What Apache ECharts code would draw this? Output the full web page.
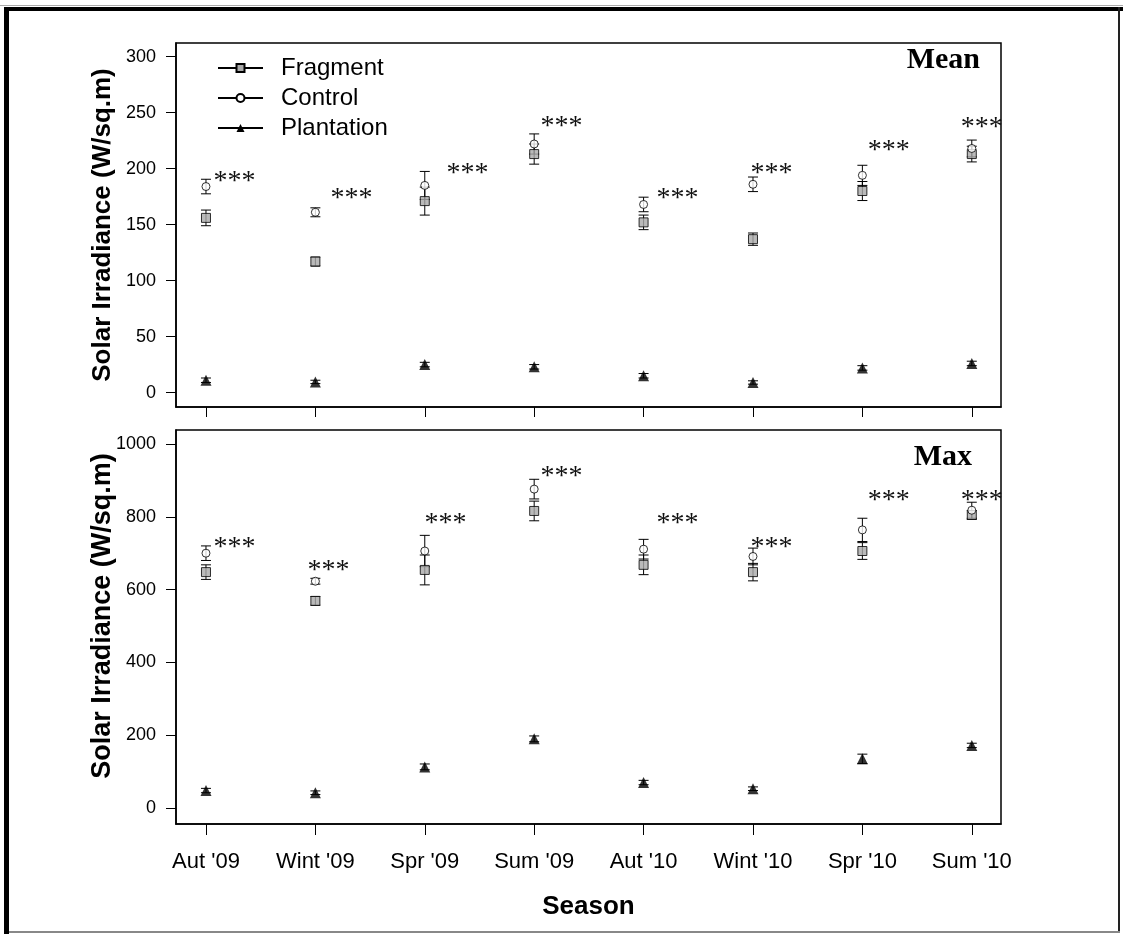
<!DOCTYPE html>
<html>
<head>
<meta charset="utf-8">
<script src="https://cdn.jsdelivr.net/npm/echarts@6/dist/echarts.min.js"></script>
<style>
html,body{margin:0;padding:0;background:#fff;}
#chart{width:1123px;height:934px;}
</style>
</head>
<body>
<div id="chart"></div>
<script>
// ---------- data ----------
const seasons = ["Aut '09", "Wint '09", "Spr '09", "Sum '09", "Aut '10", "Wint '10", "Spr '10", "Sum '10"];
const meanTicks = [0, 50, 100, 150, 200, 250, 300];
const maxTicks = [0, 200, 400, 600, 800, 1000];

const fragMean    = [156, 117, 171, 213, 152, 137, 180, 213];
const fragMeanErr = [7, 4, 12.5, 9, 6.5, 5.5, 8.5, 7];
const ctrlMean    = [184, 161, 185, 222, 168, 186, 194, 218];
const ctrlMeanErr = [6.5, 4, 12.5, 9, 6.5, 6.5, 9, 7.5];
const plantMean    = [11, 9.5, 25, 23, 15, 9, 22, 26];
const plantMeanErr = [2, 1.5, 2, 2, 2, 1.5, 2, 2];

const fragMax    = [648, 569, 654, 816, 668, 648, 706, 805];
const fragMaxErr = [20, 12, 41, 27, 27, 24, 23, 12];
const ctrlMax    = [700, 623, 706, 876, 711, 691, 764, 818];
const ctrlMaxErr = [20, 8, 43, 27, 27, 23, 32, 22];
const plantMax    = [48, 42, 113, 190, 70, 53, 135, 172];
const plantMaxErr = [6, 5, 8, 8, 6, 5, 13, 6];

// significance annotations "***": [season position, value]
const starMean = [[0.26, 192], [1.33, 177], [2.39, 199], [3.25, 241], [4.31, 177], [5.17, 199], [6.24, 219.5], [7.09, 240.5]];
const starMax  = [[0.26, 725], [1.12, 663], [2.19, 791], [3.25, 920], [4.31, 791], [5.17, 725], [6.24, 855], [7.09, 855]];

// ---------- helpers ----------
const SANS = '"Liberation Sans", Arial, sans-serif';
const SERIF = '"Liberation Serif", "Times New Roman", serif';
const idx = seasons.map((s, i) => i);

function pts(vals) { return vals.map((v, i) => [i, v]); }
function errData(vals, errs) { return vals.map((v, i) => [i, v - errs[i], v + errs[i]]); }

function renderErr(params, api) {
  const x = api.value(0), lo = api.value(1), hi = api.value(2);
  const a = api.coord([x, hi]), b = api.coord([x, lo]);
  const w = 5;
  const st = { stroke: '#000', lineWidth: 1 };
  return {
    type: 'group',
    children: [
      { type: 'line', shape: { x1: a[0], y1: a[1], x2: b[0], y2: b[1] }, style: st },
      { type: 'line', shape: { x1: a[0] - w, y1: a[1], x2: a[0] + w, y2: a[1] }, style: st },
      { type: 'line', shape: { x1: b[0] - w, y1: b[1], x2: b[0] + w, y2: b[1] }, style: st }
    ]
  };
}
function renderStar(params, api) {
  const p = api.coord([api.value(0), api.value(1)]);
  return {
    type: 'text', x: p[0], y: p[1] + 4,
    style: { text: '***', font: '28px ' + SERIF, fill: '#111',
      align: 'center', verticalAlign: 'middle', textAlign: 'center', textVerticalAlign: 'middle' }
  };
}

const styles = {
  Fragment:   { symbol: 'rect', size: 9, itemStyle: { color: '#a9a9a9', borderColor: '#000', borderWidth: 1 } },
  Control:    { symbol: 'circle', size: 8, itemStyle: { color: '#fff', borderColor: '#000', borderWidth: 1 } },
  Plantation: { symbol: 'triangle', size: 11, itemStyle: { color: '#000', borderColor: '#000', borderWidth: 0 } }
};

const series = [];
// legend-only line series (line + marker icons)
['Fragment', 'Control', 'Plantation'].forEach(n => {
  series.push({ name: n, type: 'line', data: [], xAxisIndex: 0, yAxisIndex: 0,
    symbol: styles[n].symbol, itemStyle: styles[n].itemStyle, lineStyle: { color: '#000', width: 1 } });
});

function addPanel(k, groups, stars) {
  groups.forEach(g => {
    series.push({ type: 'custom', xAxisIndex: k, yAxisIndex: k, renderItem: renderErr,
      encode: { x: 0, y: [1, 2] }, data: errData(g.vals, g.errs), silent: true, z: 2 });
  });
  groups.forEach(g => {
    const s = styles[g.name];
    series.push({ name: g.name, type: 'scatter', xAxisIndex: k, yAxisIndex: k, data: pts(g.vals),
      symbol: s.symbol, symbolSize: s.size, itemStyle: s.itemStyle, z: 3 });
  });
  series.push({ type: 'custom', xAxisIndex: k, yAxisIndex: k, renderItem: renderStar,
    encode: { x: 0, y: 1 }, data: stars, silent: true, z: 4 });
}
addPanel(0, [
  { name: 'Fragment', vals: fragMean, errs: fragMeanErr },
  { name: 'Control', vals: ctrlMean, errs: ctrlMeanErr },
  { name: 'Plantation', vals: plantMean, errs: plantMeanErr }
], starMean);
addPanel(1, [
  { name: 'Fragment', vals: fragMax, errs: fragMaxErr },
  { name: 'Control', vals: ctrlMax, errs: ctrlMaxErr },
  { name: 'Plantation', vals: plantMax, errs: plantMaxErr }
], starMax);

function xAxis(k, showLabels) {
  return {
    type: 'value', gridIndex: k, min: -0.274, max: 7.267, position: 'bottom',
    axisLine: { show: true, onZero: false, lineStyle: { color: '#000', width: 1.5 } },
    axisTick: { show: true, inside: false, customValues: idx, length: showLabels ? 11 : 10, lineStyle: { color: '#000', width: 1 } },
    axisLabel: { show: showLabels, customValues: idx, formatter: v => seasons[Math.round(v)],
      color: '#000', fontSize: 22, fontFamily: SANS, margin: 27 },
    splitLine: { show: false },
    name: showLabels ? 'Season' : '', nameLocation: 'middle', nameGap: 70,
    nameTextStyle: { color: '#000', fontSize: 26, fontWeight: 'bold', fontFamily: SANS }
  };
}
function yAxis(k, min, max, ticks) {
  return {
    type: 'value', gridIndex: k, min: min, max: max, position: 'left',
    axisLine: { show: true, onZero: false, lineStyle: { color: '#000', width: 1.5 } },
    axisTick: { show: true, inside: false, customValues: ticks, length: 10, lineStyle: { color: '#000', width: 1 } },
    axisLabel: { customValues: ticks, formatter: v => String(Math.round(v)),
      color: '#000', fontSize: 18, fontFamily: SANS, margin: 20 },
    splitLine: { show: false }
  };
}

const chart = echarts.init(document.getElementById('chart'), null, { renderer: 'canvas' });
chart.setOption({
  animation: false,
  backgroundColor: '#fff',
  grid: [
    { left: 176, right: 122, top: 43, height: 364, show: true, borderColor: '#000', borderWidth: 1.5, containLabel: false },
    { left: 176, right: 122, top: 430, height: 394, show: true, borderColor: '#000', borderWidth: 1.5, containLabel: false }
  ],
  xAxis: [xAxis(0, false), xAxis(1, true)],
  yAxis: [yAxis(0, -12.9, 312.2, meanTicks), yAxis(1, -43.9, 1038.4, maxTicks)],
  legend: {
    data: ['Fragment', 'Control', 'Plantation'], orient: 'vertical', left: 212, top: 51,
    itemWidth: 45, itemHeight: 10, itemGap: 6, selectedMode: false,
    textStyle: { color: '#000', fontSize: 24, fontFamily: SANS, padding: [0, 0, 0, 13] }
  },
  graphic: [
    { type: 'rect', shape: { x: 0, y: 5, width: 1123, height: 1 }, style: { fill: '#aaa' }, silent: true },
    { type: 'rect', shape: { x: 4, y: 7, width: 1119, height: 4 }, style: { fill: '#000' }, silent: true },
    { type: 'rect', shape: { x: 4, y: 7, width: 5, height: 927 }, style: { fill: '#000' }, silent: true },
    { type: 'rect', shape: { x: 1118, y: 7, width: 2, height: 925 }, style: { fill: '#222' }, silent: true },
    { type: 'rect', shape: { x: 9, y: 931, width: 1111, height: 2 }, style: { fill: '#888' }, silent: true },
    { type: 'text', x: 103, y: 225, rotation: Math.PI / 2,
      style: { text: 'Solar Irradiance (W/sq.m)', font: 'bold 26px ' + SANS, fill: '#000',
        align: 'center', verticalAlign: 'middle', textAlign: 'center', textVerticalAlign: 'middle' } },
    { type: 'text', x: 103, y: 616, rotation: Math.PI / 2,
      style: { text: 'Solar Irradiance (W/sq.m)', font: 'bold 27px ' + SANS, fill: '#000',
        align: 'center', verticalAlign: 'middle', textAlign: 'center', textVerticalAlign: 'middle' } },
    { type: 'text', x: 980, y: 60,
      style: { text: 'Mean', font: 'bold 30px ' + SERIF, fill: '#000',
        align: 'right', verticalAlign: 'middle', textAlign: 'right', textVerticalAlign: 'middle' } },
    { type: 'text', x: 972, y: 457,
      style: { text: 'Max', font: 'bold 30px ' + SERIF, fill: '#000',
        align: 'right', verticalAlign: 'middle', textAlign: 'right', textVerticalAlign: 'middle' } }
  ],
  series: series
});
</script>
</body>
</html>
